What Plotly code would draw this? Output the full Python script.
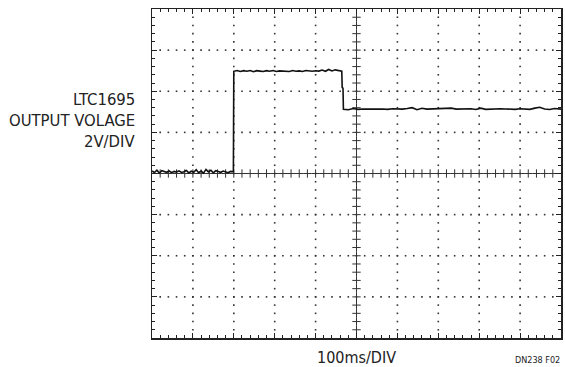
import plotly.graph_objects as go

# ---- data (time in ms, output voltage in V; 2 V/div, 100 ms/div) ----
low_t = [0, 6, 12, 18, 24, 30, 36, 42, 48, 54, 60, 66, 72, 78, 84, 90, 96,
         102, 108, 114, 120, 126, 132, 138, 144, 150, 156, 162, 168, 174,
         180, 186, 192, 199]
low_v = [0.12, 0.05, 0.16, 0.02, 0.14, 0.08, 0.06, 0.12, 0.04, 0.10, 0.07,
         0.13, 0.05, 0.09, 0.15, 0.03, 0.11, 0.06, 0.18, 0.04, 0.12, 0.02,
         0.20, 0.08, 0.16, 0.03, 0.14, 0.10, 0.06, 0.12, 0.08, 0.04, 0.10,
         0.08]

high_t = [200, 208, 216, 224, 232, 240, 248, 256, 264, 272, 280, 288, 296,
          304, 312, 320, 328, 336, 344, 352, 360, 368, 376, 384, 392, 400,
          408, 416, 424, 432, 440, 448, 456, 464]
high_v = [4.97, 5.01, 4.96, 5.00, 4.97, 5.01, 4.95, 5.00, 4.98, 4.96, 5.00,
          4.97, 5.01, 4.96, 4.99, 4.98, 5.00, 4.96, 5.01, 4.97, 4.99, 4.96,
          5.01, 4.98, 4.97, 5.00, 4.98, 5.03, 4.97, 5.06, 4.99, 5.04, 5.00,
          4.98]

fall_t = [465, 467]
fall_v = [4.18, 4.15]

mid_t = [468, 480, 492, 504, 516, 528, 540, 552, 564, 576, 588, 600, 612,
         624, 636, 648, 660, 672, 684, 696, 708, 720, 732, 744, 756, 768,
         780, 792, 804, 816, 828, 840, 852, 864, 876, 888, 900, 912, 924,
         936, 948, 960, 972, 984, 1000]
mid_v = [3.12, 3.10, 3.16, 3.12, 3.14, 3.13, 3.15, 3.13, 3.14, 3.12, 3.15,
         3.14, 3.13, 3.16, 3.20, 3.10, 3.17, 3.13, 3.14, 3.12, 3.14, 3.15,
         3.18, 3.13, 3.14, 3.12, 3.15, 3.11, 3.18, 3.12, 3.14, 3.13, 3.15,
         3.14, 3.13, 3.12, 3.15, 3.14, 3.12, 3.18, 3.22, 3.14, 3.11, 3.16,
         3.13]

trace_t = low_t + high_t + fall_t + mid_t
trace_v = low_v + high_v + fall_v + mid_v

X_RANGE = [0, 1000]
Y_RANGE = [-8, 8]
X_DIV = 100
Y_DIV = 2
SUB = 5  # minor subdivisions per division

# ---- graticule decorations (scope screen) ----
dx = X_DIV / SUB
dy = Y_DIV / SUB
nx = int((X_RANGE[1] - X_RANGE[0]) / dx)
ny = int((Y_RANGE[1] - Y_RANGE[0]) / dy)
xc = (X_RANGE[0] + X_RANGE[1]) / 2
yc = (Y_RANGE[0] + Y_RANGE[1]) / 2

dot_x, dot_y = [], []
for gx in range(X_RANGE[0] + X_DIV, X_RANGE[1], X_DIV):
    if gx == xc:
        continue
    for k in range(1, ny):
        dot_x.append(gx)
        dot_y.append(Y_RANGE[0] + k * dy)
for gy in range(Y_RANGE[0] + Y_DIV, Y_RANGE[1], Y_DIV):
    if gy == yc:
        continue
    for k in range(1, nx):
        dot_x.append(X_RANGE[0] + k * dx)
        dot_y.append(gy)

cross_x, cross_y = [], []
for k in range(1, nx):
    cross_x.append(X_RANGE[0] + k * dx)
    cross_y.append(yc)
for k in range(1, ny):
    cross_x.append(xc)
    cross_y.append(Y_RANGE[0] + k * dy)

fig = go.Figure()
fig.add_trace(go.Scatter(x=dot_x, y=dot_y, mode="markers",
                         marker=dict(symbol="square", size=1.6, color="#333",
                                     line=dict(width=0)),
                         hoverinfo="skip", showlegend=False))
fig.add_trace(go.Scatter(x=cross_x, y=cross_y, mode="markers",
                         marker=dict(symbol="cross-thin", size=6,
                                     line=dict(width=1, color="#333")),
                         hoverinfo="skip", showlegend=False))
fig.add_trace(go.Scatter(x=trace_t, y=trace_v, mode="lines",
                         line=dict(color="#111", width=1.6),
                         showlegend=False))

W, H = 565, 367
L, R, T, B = 152, 563, 9, 338


def px_x(p):
    return (p - L) / (R - L)


def px_y(p):
    return (B - p) / (B - T)


axis_common = dict(showline=True, linecolor="#222", linewidth=1.5,
                   mirror="allticks", ticks="inside", ticklen=5,
                   tickcolor="#222", tickwidth=1, showticklabels=False,
                   showgrid=False, zeroline=False, fixedrange=True)

fig.update_xaxes(range=X_RANGE, tick0=0, dtick=X_DIV,
                 minor=dict(ticks="inside", dtick=dx, ticklen=3,
                            tickcolor="#222", showgrid=False),
                 **axis_common)
fig.update_yaxes(range=Y_RANGE, tick0=0, dtick=Y_DIV,
                 minor=dict(ticks="inside", dtick=dy, ticklen=3,
                            tickcolor="#222", showgrid=False),
                 **axis_common)

font_family = "DejaVu Sans Condensed, Liberation Sans Narrow, sans-serif"
ann = []
for text, cy in [("LTC1695", 99.5), ("OUTPUT VOLAGE", 120.5), ("2V/DIV", 141.5)]:
    ann.append(dict(text=text, xref="paper", yref="paper", x=px_x(137),
                    y=px_y(cy), xanchor="right", yanchor="middle",
                    showarrow=False,
                    font=dict(family=font_family, size=16.5, color="#222")))
ann.append(dict(text="100ms/DIV", xref="paper", yref="paper", x=px_x(358),
                y=px_y(357.5), xanchor="center", yanchor="middle",
                showarrow=False,
                font=dict(family=font_family, size=16, color="#222")))
ann.append(dict(text="DN238 F02", xref="paper", yref="paper", x=px_x(564),
                y=px_y(360), xanchor="right", yanchor="middle",
                showarrow=False,
                font=dict(family=font_family, size=9, color="#222")))

fig.update_layout(width=W, height=H,
                  margin=dict(l=L, r=W - R, t=T, b=H - B, pad=0),
                  paper_bgcolor="white", plot_bgcolor="white",
                  annotations=ann, showlegend=False)

fig.write_html("out.html",
               config={"displayModeBar": False, "staticPlot": True},
               post_script="document.body.style.margin='0';"
                           "document.body.style.overflow='hidden';")
